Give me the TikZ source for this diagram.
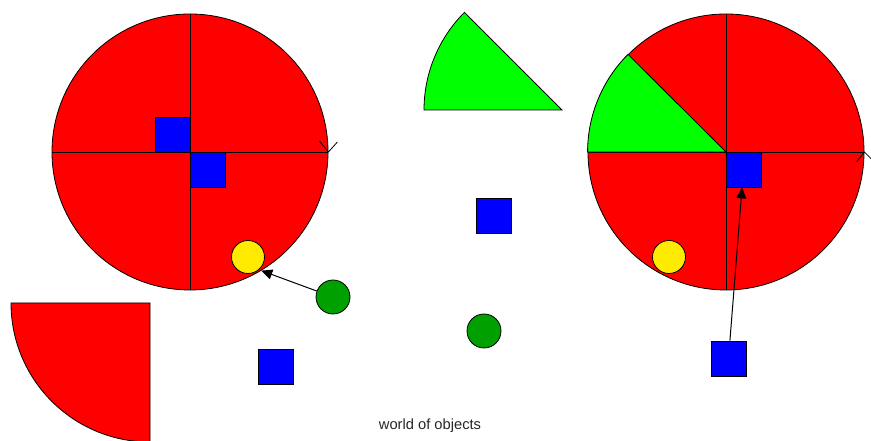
\documentclass[tikz,border=0pt]{standalone}
\usepackage{fontspec}
\setmainfont{Liberation Sans}
\usetikzlibrary{arrows.meta}
\definecolor{cred}{RGB}{255,0,0}
\definecolor{cgreen}{RGB}{0,255,0}
\definecolor{cblue}{RGB}{0,0,255}
\definecolor{cyellow}{RGB}{255,235,0}
\definecolor{cdgreen}{RGB}{0,160,0}
\tikzset{
  every path/.style={line width=0.8pt},
  bigdisk/.style={circle, draw=black, fill=cred, minimum size=276pt, inner sep=0pt},
  bsq/.style={rectangle, draw=black, fill=cblue, minimum size=35pt, inner sep=0pt},
  ydot/.style={circle, draw=black, fill=cyellow, minimum size=33pt, inner sep=0pt},
  gdot/.style={circle, draw=black, fill=cdgreen, minimum size=34pt, inner sep=0pt},
  sector/.style={draw=black, fill=cgreen},
  arr/.style={-{Triangle[length=11pt,width=10pt]}, line width=1pt},
  chev/.style={line width=0.8pt},
}
\begin{document}
\begin{tikzpicture}[x=1pt,y=1pt]
\useasboundingbox (0,0) rectangle (871,441);
% left big circle
\node[bigdisk] (L) at (190,289) {};
\draw (L.west) -- (L.east);
\draw (L.north) -- (L.south);
\node[bsq] (b1) at (172.5,306.5) {};
\node[bsq] (b2) at (207.5,271.5) {};
\draw[chev] ([shift={(-9,11)}]L.east) -- (L.east) -- ([shift={(9,10)}]L.east);
\node[ydot] (y1) at (248,184) {};
\node[gdot] (g1) at (333,144) {};
\draw[arr] (g1) -- (L.-59.4);
\node[bsq] (b3) at (275.5,74.5) {};
% bottom-left quarter disk
\coordinate (qc) at (150,138);
\draw[fill=cred] (qc) -- (11,138) arc (180:270:139) -- cycle;
% top green sector
\coordinate (sc) at (562,331);
\draw[sector] (sc) -- (424,331) arc (180:135:138) -- cycle;
\node[bsq] (b4) at (493.5,225.5) {};
\node[gdot] (g2) at (484,110) {};
% right big circle
\node[bigdisk] (R) at (726,289) {};
\draw[sector] (R.center) -- (R.west) arc (180:135:138) -- cycle;
\draw (R.west) -- (R.east);
\draw (R.north) -- (R.south);
\draw[chev] ([shift={(-8,-10)}]R.east) -- (R.east) -- ([shift={(8,-8)}]R.east);
\node[bsq] (b5) at (743.5,271.5) {};
\node[ydot] (y2) at (669,184) {};
\node[bsq] (b6) at (728.5,82.5) {};
\draw[arr] (b6) -- (b5);
% caption
\node[font=\fontsize{14.7}{17}\selectfont, text=black!85] (cap) at (430,15) {world of objects};
\end{tikzpicture}
\end{document}
